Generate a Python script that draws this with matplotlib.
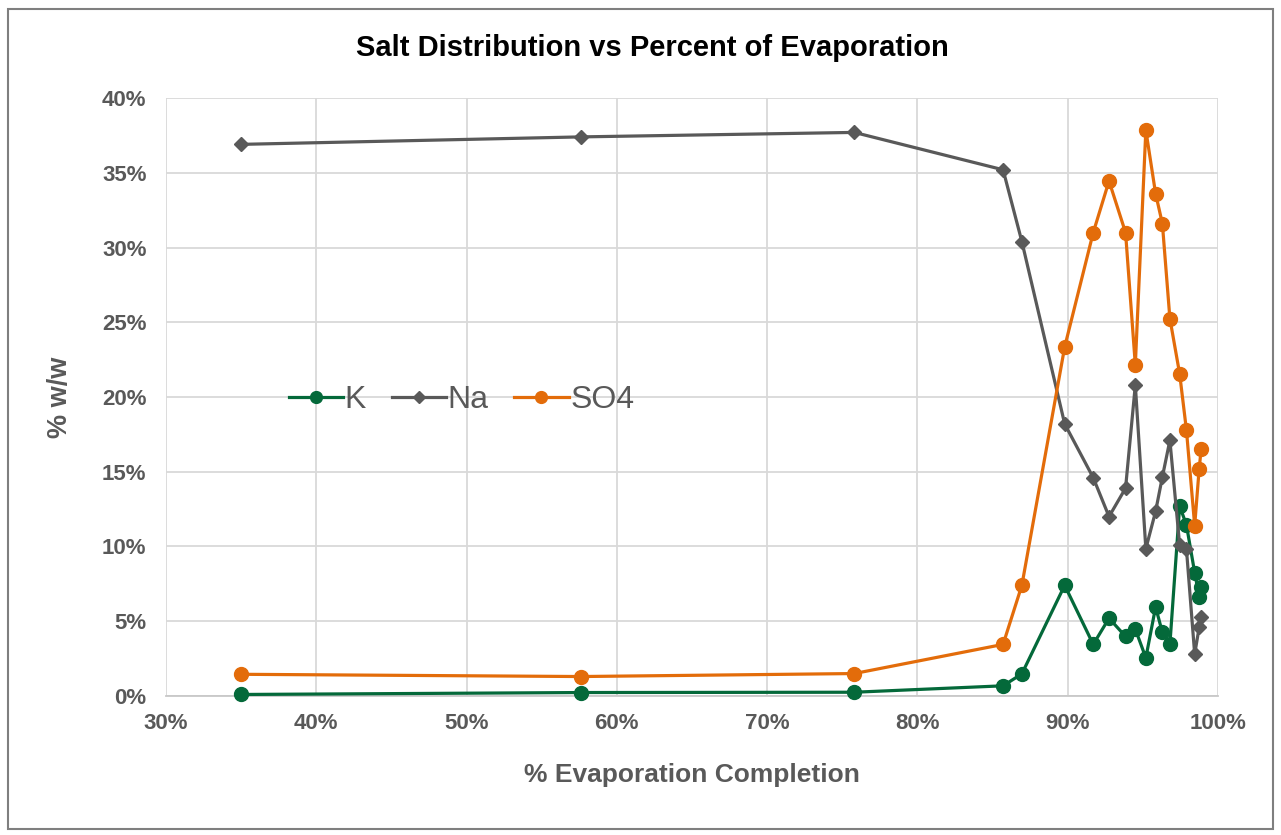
import matplotlib
matplotlib.use("Agg")
import matplotlib.pyplot as plt
from matplotlib.patches import Rectangle
from matplotlib.ticker import FuncFormatter, MultipleLocator

plt.rcParams['font.family'] = ['Liberation Sans', 'DejaVu Sans']

# % evaporation completion and salt content (% w/w)
evaporation = [35.0, 57.6, 75.8, 85.7, 86.95, 89.8, 91.7, 92.75, 93.85, 94.5,
               95.2, 95.85, 96.3, 96.8, 97.45, 97.9, 98.45, 98.75, 98.88]
k_vals = [0.1, 0.23, 0.25, 0.68, 1.48, 7.4, 3.45, 5.2, 3.98, 4.47,
          2.55, 5.95, 4.25, 3.45, 12.7, 11.45, 8.25, 6.65, 7.3]
na_vals = [36.9, 37.4, 37.7, 35.2, 30.4, 18.2, 14.6, 12.0, 13.9, 20.8,
           9.85, 12.35, 14.65, 17.1, 10.1, 9.85, 2.8, 4.6, 5.25]
so4_vals = [1.45, 1.3, 1.5, 3.45, 7.4, 23.35, 31.0, 34.45, 31.0, 22.15,
            37.85, 33.6, 31.6, 25.25, 21.55, 17.8, 11.4, 15.2, 16.5]

GREEN = '#04693a'
GREY = '#595959'
ORANGE = '#e36c0a'

fig = plt.figure(figsize=(12.81, 8.35), dpi=100)
ax = fig.add_axes([0.1296, 0.1665, 0.8212, 0.7161])

ax.plot(evaporation, k_vals, color=GREEN, lw=2.3, marker='o', ms=10, label='K', clip_on=False, zorder=3)
ax.plot(evaporation, na_vals, color=GREY, lw=2.3, marker='D', ms=7, label='Na', clip_on=False, zorder=3)
ax.plot(evaporation, so4_vals, color=ORANGE, lw=2.3, marker='o', ms=10, label='SO4', clip_on=False, zorder=4)

ax.set_xlim(30, 100)
ax.set_ylim(0, 40)
ax.xaxis.set_major_locator(MultipleLocator(10))
ax.yaxis.set_major_locator(MultipleLocator(5))
pct = FuncFormatter(lambda v, p: f"{v:.0f}%")
ax.xaxis.set_major_formatter(pct)
ax.yaxis.set_major_formatter(pct)

ax.grid(True, color='#d9d9d9', lw=1.3)
ax.set_axisbelow(True)
for side in ['top', 'right', 'left']:
    ax.spines[side].set_visible(False)
ax.spines['bottom'].set_color('#c8c8c8')
ax.spines['bottom'].set_linewidth(1.3)
ax.tick_params(length=0, labelsize=16, labelcolor=GREY)
ax.tick_params(axis='y', pad=14)
ax.tick_params(axis='x', pad=12)
for lbl in ax.get_xticklabels() + ax.get_yticklabels():
    lbl.set_fontweight('bold')

ax.set_xlabel('% Evaporation Completion', fontsize=19, fontweight='bold', color=GREY, labelpad=21)
ax.set_ylabel('% w/w', fontsize=19.5, fontweight='bold', color=GREY, labelpad=21)
fig.text(0.509, 0.942, 'Salt Distribution vs Percent of Evaporation',
         ha='center', va='center', fontsize=21, fontweight='bold', color='black')

leg = ax.legend(loc='center', bbox_to_anchor=(0.281, 0.495), ncol=3, frameon=False,
                fontsize=23, handlelength=1.7, handletextpad=0.05, columnspacing=0.8,
                markerscale=0.85)
for t in leg.get_texts():
    t.set_color(GREY)

# chart border
fig.patches.append(Rectangle((0.0063, 0.007), 0.9875, 0.982, transform=fig.transFigure,
                             fill=False, edgecolor='#7f7f7f', lw=1.5))

fig.savefig('out.png', dpi=100)
